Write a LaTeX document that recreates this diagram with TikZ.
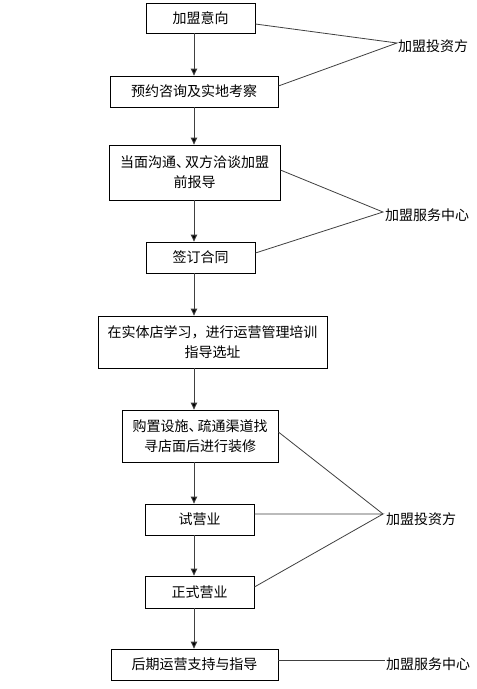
\documentclass[tikz,border=0pt]{standalone}
\usepackage{fontspec}
\setmainfont{Noto Sans CJK SC}
\usetikzlibrary{arrows.meta}
\newcommand{\dunhao}{、\kern-5pt}
\tikzset{
  box/.style={draw=black,line width=0.8pt,inner sep=0pt,align=center,
    font=\fontsize{14}{20}\selectfont},
  lab/.style={anchor=west,inner sep=0pt,font=\fontsize{14}{16}\selectfont},
  arr/.style={draw=black!75,line width=0.9pt,-{Triangle[length=7pt,width=6.5pt,fill=black]}},
  conn/.style={draw=black!75,line width=0.8pt}
}
\begin{document}
\begin{tikzpicture}[x=1pt,y=-1pt]
\useasboundingbox[fill=white] (0,0) rectangle (477,689);
\coordinate (spine) at (194,0);
\node[box,minimum width=109pt,minimum height=30pt] (b1) at (200.5,18) {加盟意向};
\node[box,minimum width=168pt,minimum height=31pt] (b2) at (194,91.5) {预约咨询及实地考察};
\node[box,minimum width=171pt,minimum height=55pt] (b3) at (194.5,172.5) {当面沟通\dunhao 双方洽谈加盟\\前报导};
\node[box,minimum width=109pt,minimum height=31pt] (b4) at (200.5,257.5) {签订合同};
\node[box,minimum width=229pt,minimum height=52pt] (b5) at (212.5,342) {在实体店学习，进行运营管理培训\\指导选址};
\node[box,minimum width=156pt,minimum height=52pt] (b6) at (200,436) {购置设施\dunhao 疏通渠道找\\寻店面后进行装修};
\node[box,minimum width=109pt,minimum height=31pt] (b7) at (199.5,519.5) {试营业};
\node[box,minimum width=109pt,minimum height=32pt] (b8) at (199.5,592) {正式营业};
\node[box,minimum width=167pt,minimum height=31pt] (b9) at (194.5,664.5) {后期运营支持与指导};

\node[lab] (l1) at (398,46) {加盟投资方};
\node[lab] (l2) at (385,215) {加盟服务中心};
\node[lab] (l3) at (386,519) {加盟投资方};
\node[lab] (l4) at (386,664) {加盟服务中心};
\coordinate (v1) at (397,43);
\coordinate (v2) at (383,212);
\coordinate (v3) at (383,514);
\coordinate (v4) at (385,660);

\draw[arr] (b1.south -| spine) -- (b2.north -| spine);
\draw[arr] (b2.south -| spine) -- (b3.north -| spine);
\draw[arr] (b3.south -| spine) -- (b4.north -| spine);
\draw[arr] (b4.south -| spine) -- (b5.north -| spine);
\draw[arr] (b5.south -| spine) -- (b6.north -| spine);
\draw[arr] (b6.south -| spine) -- (b7.north -| spine);
\draw[arr] (b7.south -| spine) -- (b8.north -| spine);
\draw[arr] (b8.south -| spine) -- (b9.north -| spine);

\draw[conn] ([yshift=-6pt]b1.east) -- (v1) -- ([yshift=5.5pt]b2.east);
\draw[conn] ([yshift=2.5pt]b3.east) -- (v2) -- ([yshift=4.5pt]b4.east);
\draw[conn] ([yshift=4pt]b6.east) -- (v3);
\draw[conn] ([yshift=5.5pt]b7.east) -- (v3) -- ([yshift=5pt]b8.east);
\draw[conn] ([yshift=4.5pt]b9.east) -- (v4);
\end{tikzpicture}
\end{document}
